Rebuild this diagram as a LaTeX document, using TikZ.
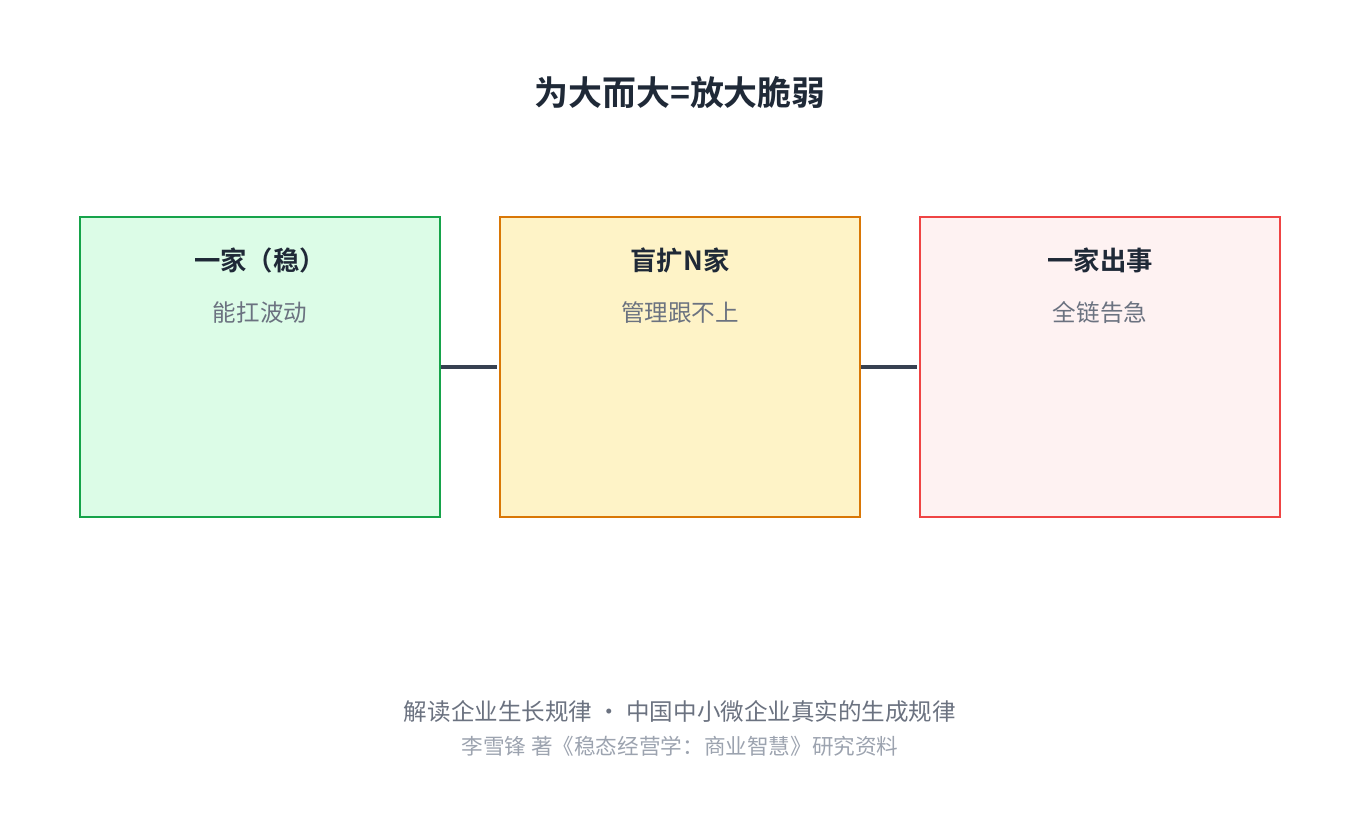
\documentclass[tikz,border=0pt]{standalone}
\usepackage{fontspec}
\setmainfont{Noto Sans CJK SC}[BoldFont={Noto Sans CJK SC Bold}]
\usetikzlibrary{positioning}
\definecolor{ink}{HTML}{1F2937}
\definecolor{muted}{HTML}{6B7280}
\definecolor{faint}{HTML}{9CA3AF}
\definecolor{wire}{HTML}{374151}
\definecolor{calm}{HTML}{16A34A}
\definecolor{calmfill}{HTML}{DCFCE7}
\definecolor{strain}{HTML}{D97706}
\definecolor{strainfill}{HTML}{FEF3C7}
\definecolor{alarm}{HTML}{EF4444}
\definecolor{alarmfill}{HTML}{FEF2F2}
\begin{document}
\begin{tikzpicture}
  [x=0.02cm,y=-0.02cm,
  %Styles
  stage/.style={draw=#1,fill=#1fill,line width=1.4pt,minimum width=7.2cm,minimum height=6cm,inner sep=0pt},
  head/.style={font=\bfseries\fontsize{15}{18}\selectfont,text=ink},
  note/.style={font=\fontsize{13.4}{16}\selectfont,text=muted},
  link/.style={draw=wire,line width=2pt}
  ]
  \useasboundingbox (0,0) rectangle (1360,830);

  %Title
  \node[font=\bfseries\fontsize{19.3}{23}\selectfont,text=ink] (title) at (680,93) {为大而大=放大脆弱};

  %The graphic
  \node[stage=calm] (one) at (260,367) {};
  \node[stage=strain] (many) at (680,367) {};
  \node[stage=alarm] (crash) at (1100,367) {};

  \node[head] (oneh) at (260,260) {一家（稳）};
  \node[note] (onen) at (260,313) {能扛波动};
  \node[head] (manyh) at (680,260) {盲扩N家};
  \node[note] (manyn) at (680,313) {管理跟不上};
  \node[head] (crashh) at (1100,260) {一家出事};
  \node[note] (crashn) at (1100,313) {全链告急};

  \draw[link] (one.east) -- ++(56,0);
  \draw[link] (many.east) -- ++(56,0);

  %Footer
  \node[font=\fontsize{13.4}{16}\selectfont,text=muted] (foot) at (680,712) {解读企业生长规律 \textbullet{} 中国中小微企业真实的生成规律};
  \node[font=\fontsize{12.3}{14}\selectfont,text=faint] (credit) at (680,746) {李雪锋 著《稳态经营学：商业智慧》研究资料};
\end{tikzpicture}
\end{document}
